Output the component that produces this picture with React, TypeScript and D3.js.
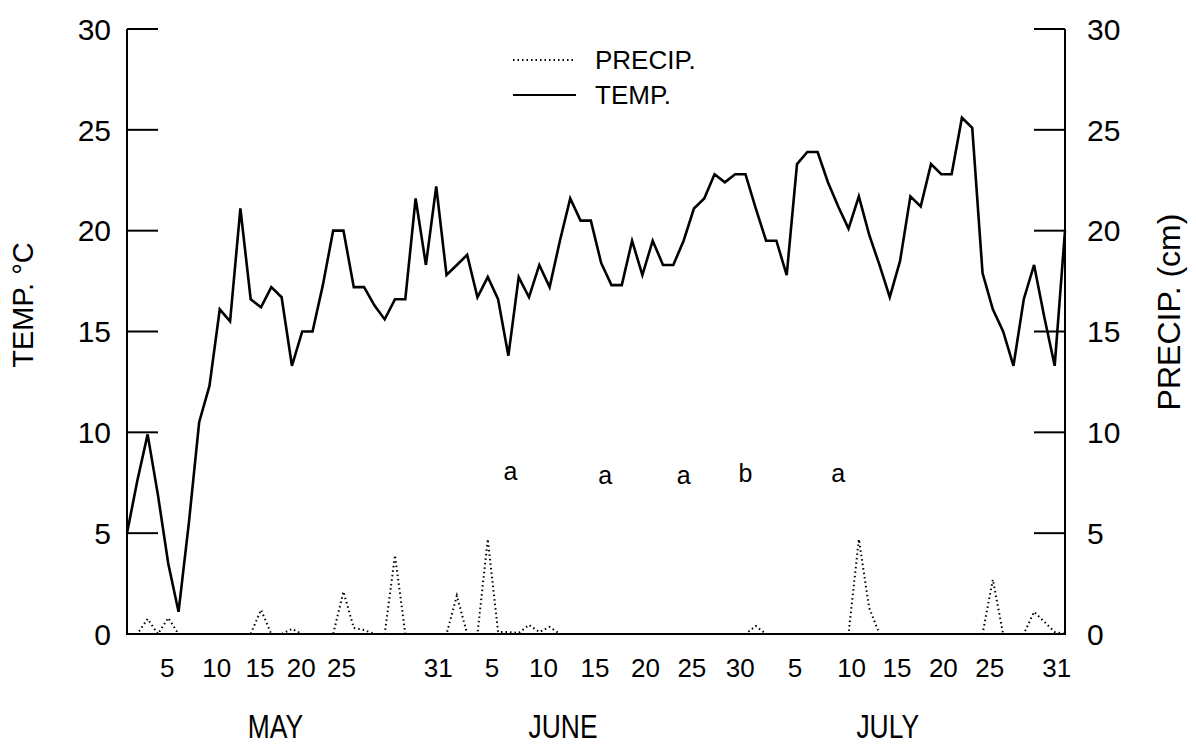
import React from "react";
import * as d3 from "d3";

// Day index 0 = May 1 ... 91 = July 31
const temperature: number[] = [
  5.0, 7.6, 9.9, 6.9, 3.5, 1.1, 5.5, 10.5, 12.3, 16.1,
  15.5, 21.1, 16.6, 16.2, 17.2, 16.7, 13.3, 15.0, 15.0, 17.3,
  20.0, 20.0, 17.2, 17.2, 16.3, 15.6, 16.6, 16.6, 21.6, 18.3,
  22.2, 17.8, 18.3, 18.8, 16.7, 17.7, 16.6, 13.8, 17.7, 16.7,
  18.3, 17.2, 19.5, 21.6, 20.5, 20.5, 18.4, 17.3, 17.3, 19.5,
  17.8, 19.5, 18.3, 18.3, 19.5, 21.1, 21.6, 22.8, 22.4, 22.8,
  22.8, 21.1, 19.5, 19.5, 17.8, 23.3, 23.9, 23.9, 22.4, 21.2,
  20.1, 21.7, 19.8, 18.3, 16.7, 18.5, 21.7, 21.2, 23.3, 22.8,
  22.8, 25.6, 25.1, 17.9, 16.1, 15.0, 13.3, 16.6, 18.3, 15.7,
  13.3, 20.0,
];

const precipitation: number[] = [
  0, 0, 0.75, 0, 0.8, 0, 0, 0, 0, 0,
  0, 0, 0, 1.2, 0, 0, 0.25, 0, 0, 0,
  0, 2.1, 0.3, 0.2, 0, 0, 3.9, 0, 0, 0,
  0, 0, 1.9, 0, 0, 4.7, 0.1, 0.1, 0.05, 0.45,
  0.1, 0.35, 0, 0, 0, 0, 0, 0, 0, 0,
  0, 0, 0, 0, 0, 0, 0, 0, 0, 0,
  0, 0.4, 0, 0, 0, 0, 0, 0, 0, 0,
  0, 4.7, 1.3, 0, 0, 0, 0, 0, 0, 0,
  0, 0, 0, 0, 2.7, 0, 0, 0, 1.1, 0.6,
  0.1, 0,
];

const xTickLabels: string[] = ["5", "10", "15", "20", "25", "31", "5", "10", "15", "20", "25", "30", "5", "10", "15", "20", "25", "31"];
const xTickDays: number[] = [3.9, 8.7, 12.9, 16.9, 20.8, 30.2, 35.4, 40.4, 45.4, 50.3, 54.8, 59.5, 64.8, 70.3, 74.7, 79.2, 83.7, 90.2];

const months: string[] = ["MAY", "JUNE", "JULY"];
const monthDays: number[] = [14.4, 42.3, 73.8];

const yTicks: number[] = [0, 5, 10, 15, 20, 25, 30];

const annotLetters: string[] = ["a", "a", "a", "b", "a"];
const annotDays: number[] = [37.2, 46.4, 54.0, 60.0, 69.0];
const annotValues: number[] = [7.62, 7.42, 7.42, 7.53, 7.52];

const W = 1196;
const H = 749;
const left = 127;
const right = 1065;
const top = 29;
const bottom = 634;

export default function App() {
  const x = d3.scaleLinear().domain([0, 91]).range([left, right]);
  const y = d3.scaleLinear().domain([0, 30]).range([bottom, top]);

  const line = d3
    .line<number>()
    .x((_, i) => x(i))
    .y((d) => y(d));

  const font = "'Liberation Sans', Arial, sans-serif";

  return (
    <svg
      width={W}
      height={H}
      viewBox={`0 0 ${W} ${H}`}
      style={{ position: "absolute", left: 0, top: 0, background: "#fff" }}
    >
      <rect x={0} y={0} width={W} height={H} fill="#fff" />
      {/* axes */}
      <g stroke="#000" strokeWidth={2} fill="none">
        <line x1={left} y1={y(30)} x2={left} y2={y(0) + 1} />
        <line x1={right} y1={y(30)} x2={right} y2={y(0) + 1} />
        <line x1={left} y1={y(0)} x2={right} y2={y(0)} />
        {yTicks.map((t) => (
          <g key={t}>
            <line x1={left} x2={left + 31} y1={y(t)} y2={y(t)} />
            <line x1={right - 31} x2={right} y1={y(t)} y2={y(t)} />
          </g>
        ))}
      </g>

      {/* y tick labels */}
      <g fontFamily={font} fontSize={30} fill="#000">
        {yTicks.map((t) => (
          <text key={"l" + t} x={111} y={y(t)} dy="0.36em" textAnchor="end">
            {t}
          </text>
        ))}
        {yTicks.map((t) => (
          <text key={"r" + t} x={1087} y={y(t)} dy="0.36em" textAnchor="start">
            {t}
          </text>
        ))}
      </g>

      {/* x tick labels */}
      <g fontFamily={font} fontSize={26} fill="#000" textAnchor="middle">
        {xTickLabels.map((l, i) => (
          <text key={i} x={x(xTickDays[i])} y={677}>
            {l}
          </text>
        ))}
      </g>

      {/* month labels */}
      <g fontFamily={font} fontSize={33} fill="#000" textAnchor="middle">
        {months.map((m, i) => (
          <text
            key={m}
            transform={`translate(${x(monthDays[i])},738) scale(0.8,1)`}
          >
            {m}
          </text>
        ))}
      </g>

      {/* axis titles */}
      <text
        fontFamily={font}
        fontSize={29}
        textAnchor="middle"
        transform={`translate(33,305) rotate(-90)`}
      >
        TEMP. °C
      </text>
      <text
        fontFamily={font}
        fontSize={32}
        textAnchor="middle"
        transform={`translate(1180,312) rotate(-90)`}
      >
        PRECIP. (cm)
      </text>

      {/* precipitation */}
      <path
        d={line(precipitation) || ""}
        fill="none"
        stroke="#000"
        strokeWidth={2}
        strokeDasharray="1.5 3"
      />
      {/* temperature */}
      <path
        d={line(temperature) || ""}
        fill="none"
        stroke="#000"
        strokeWidth={2.6}
        strokeLinejoin="miter"
      />

      {/* annotations */}
      <g fontFamily={font} fontSize={25} fill="#000" textAnchor="middle">
        {annotLetters.map((l, i) => (
          <text key={i} x={x(annotDays[i])} y={y(annotValues[i])}>
            {l}
          </text>
        ))}
      </g>

      {/* legend */}
      <g>
        <line x1={513} x2={574} y1={60} y2={60} stroke="#000" strokeWidth={2} strokeDasharray="1.5 3" />
        <line x1={513} x2={576} y1={95} y2={95} stroke="#000" strokeWidth={2.2} />
        <text x={595} y={69} fontFamily={font} fontSize={26}>
          PRECIP.
        </text>
        <text x={595} y={104} fontFamily={font} fontSize={26}>
          TEMP.
        </text>
      </g>
    </svg>
  );
}
